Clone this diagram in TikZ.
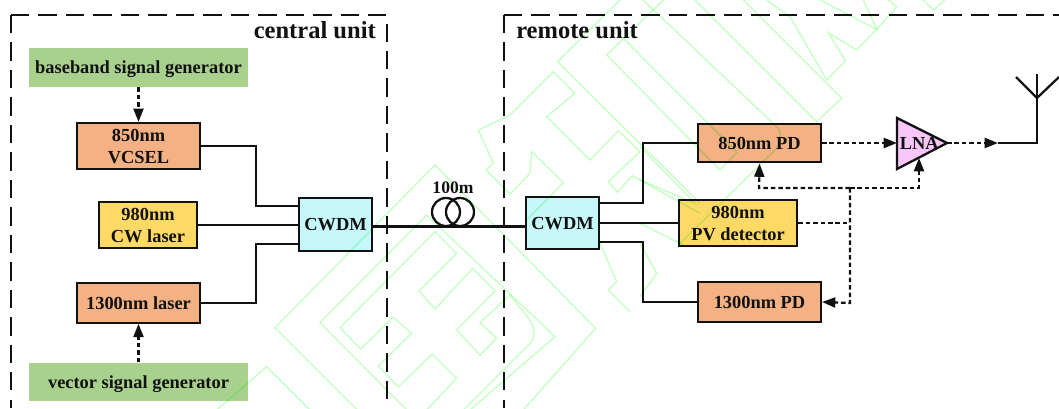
\documentclass[tikz,border=0pt]{standalone}
\usepackage{fontspec}
\setmainfont{Liberation Serif}
\usetikzlibrary{arrows.meta}
\definecolor{gbox}{HTML}{A9D18E}
\definecolor{obox}{HTML}{F4B183}
\definecolor{ybox}{HTML}{FFD966}
\definecolor{cbox}{HTML}{C5F7FB}
\definecolor{pbox}{HTML}{F9C6F9}
\definecolor{ink}{HTML}{111111}
\definecolor{wmark}{HTML}{C8FFC8}
\tikzset{
 x=0.75pt,y=-0.75pt,
 lab/.style={font=\bfseries\fontsize{13.8}{16.5}\selectfont,text=ink,align=center,inner sep=0pt,text depth=-1.2pt},
 bigl/.style={font=\bfseries\fontsize{18.4}{22}\selectfont,text=ink,inner sep=0pt},
 gen/.style={lab,fill=gbox},
 unitbox/.style={lab,draw=ink,line width=1.7pt},
 wire/.style={draw=ink,line width=1.7pt},
 frameline/.style={draw=ink,line width=1.7pt,dash pattern=on 13.8pt off 6.8pt},
 dotline/.style={draw=ink,line width=1.7pt,dash pattern=on 3.4pt off 2.2pt},
 tip/.style={-{Triangle[length=10pt,width=7.5pt]}},
 wm/.style={draw=wmark,line width=1.1pt,line join=miter},
}
\begin{document}
\begin{tikzpicture}
\useasboundingbox (0,0) rectangle (1059,408);
% frames
\coordinate (c1) at (11,408); \coordinate (c2) at (11,15); \coordinate (c3) at (387,15); \coordinate (c4) at (387,408);
\coordinate (r1) at (504,408); \coordinate (r2) at (504,15); \coordinate (r3) at (1059,15);
\draw[frameline] (c2) -- (c1);
\draw[frameline] (c2) -- (c3) -- (c4);
\draw[frameline] (r2) -- (r1);
\draw[frameline] (r2) -- (r3);
\node[bigl,anchor=east] (cu) at (376,30) {central unit};
\node[bigl,anchor=west] (ru) at (516,30) {remote unit};
% boxes
\node[gen,minimum width=164.25pt,minimum height=29pt] (bb) at (138.5,67.5) {baseband signal generator};
\node[gen,minimum width=164.25pt,minimum height=29pt] (vs) at (138.5,382) {vector signal generator};
\node[unitbox,fill=obox,minimum width=92pt,minimum height=34.5pt] (vcsel) at (138.5,146) {850nm\\VCSEL};
\node[unitbox,fill=ybox,minimum width=73.5pt,minimum height=34.5pt] (cw) at (148,225) {980nm\\CW laser};
\node[unitbox,fill=obox,minimum width=92pt,minimum height=29.5pt] (l13) at (138.5,303) {1300nm laser};
\node[unitbox,fill=cbox,minimum width=55pt,minimum height=39.5pt] (wl) at (335.5,224.5) {CWDM};
\node[unitbox,fill=cbox,minimum width=55pt,minimum height=39.5pt] (wr) at (562.5,223) {CWDM};
\node[unitbox,fill=obox,minimum width=92pt,minimum height=29pt] (pd85) at (759.5,143) {850nm PD};
\node[unitbox,fill=ybox,minimum width=88.5pt,minimum height=34.5pt] (pv) at (738,223) {980nm\\PV detector};
\node[unitbox,fill=obox,minimum width=92pt,minimum height=29.5pt] (pd13) at (759.5,302) {1300nm PD};
\coordinate (lnaA) at (897,118); \coordinate (lnaB) at (897,169); \coordinate (lnaC) at (947,143);
\draw[wire,fill=pbox,line join=miter] (lnaA) -- (lnaC) -- (lnaB) -- cycle;
\node[lab,anchor=west] (lnat) at (899.5,143) {LNA};
% dotted arrows
\draw[dotline,tip] (bb.south) -- (vcsel.north);
\draw[dotline,tip] (vs.north) -- (l13.south);
\coordinate (ant0) at (998,143);
\draw[dotline,tip] (pd85.east) -- (lnaA |- pd85.east);
\draw[dotline,tip] (lnaC) -- (ant0);
\coordinate (j1) at (850,223); \coordinate (j2) at (850,188);
\draw[dotline] (pv.east) -- (j1);
\draw[dotline,tip] (j2) -- (850,303) -- (pd13.east);
\draw[dotline,tip] (j2) -- (759,188) -- (pd85.south);
\draw[dotline,tip] (j2) -- (919,188) -- (919,158);
% solid
\draw[wire] (vcsel.east) -- (256,146) -- (256,206) -- (299,206);
\draw[wire] (cw.east) -- (299,225);
\draw[wire] (l13.east) -- (256,303) -- (256,244) -- (299,244);
\coordinate (fa) at (526,226.5);
\draw[wire] (372,226.5) -- (fa);
\draw[wire] (599,203) -- (643,203) -- (643,143) -- (pd85.west);
\draw[wire] (wr.east) -- (pv.west);
\draw[wire] (599,242) -- (643,242) -- (643,302) -- (pd13.west);
\draw[wire] (998,143) -- (1037,143) -- (1037,74);
\draw[wire] (1016,77) -- (1037,98) -- (1059,77);
% coil
\draw[wire] (446,212) circle[radius=14];
\draw[wire] (460,212) circle[radius=14];
\node[lab,font=\bfseries\fontsize{13.2}{16}\selectfont] (len) at (453,188) {100m};
% watermark
\begin{scope}[blend mode=multiply]
\begin{scope}[shift={(230,230)},x=0.25pt,y=-0.25pt]
\draw[wm] (135,293) -- (615,-195) -- (1097,295) -- (880,540);
\draw[wm] (135,293) -- (420,578);
\draw[wm] (590,-45) -- (270,278) -- (590,600);
\draw[wm] (590,-45) -- (975,320) -- (720,540);
\draw[wm] (330,293) -- (615,5) -- (680,70) -- (567,183) -- (615,237) -- (728,115) -- (795,183) -- (680,300) -- (750,375) -- (800,325) -- (750,278) -- (840,195) -- (900,270) .. controls (920,310) and (915,330) .. (890,350) -- (700,540);
\draw[wm] (330,293) -- (392,357) -- (490,262) -- (545,310) -- (445,408) -- (505,470) -- (607,372) -- (680,445) -- (590,540);
\draw[wm] (1110,40) -- (1160,155) -- (1135,180) -- (1200,245);
\draw[wm] (-40,540) -- (110,410) -- (240,540);
\end{scope}
\begin{scope}[shift={(380,0)},x=0.25pt,y=-0.25pt]
\draw[wm] (585,280) -- (520,215) -- (390,345) -- (295,390) -- (340,490) -- (318,510) -- (390,582) -- (450,520) -- (455,455) -- (550,548) -- (440,660);
\draw[wm] (585,280) -- (500,350) -- (630,480) -- (715,392) -- (780,455) -- (685,545) -- (712,577) -- (757,527) -- (960,640);
\draw[wm] (720,0) -- (533,185) -- (960,610);
\draw[wm] (850,0) -- (680,165) -- (1020,510) -- (1071,457) -- (730,115);
\end{scope}
\begin{scope}[shift={(640,50)},x=0.25pt,y=-0.25pt]
\draw[wm] (9,-150) -- (415,235) .. controls (425,250) and (425,275) .. (410,295) -- (115,585);
\draw[wm] (0,290) -- (165,460) -- (0,390);
\draw[wm] (0,520) -- (140,590);
\draw[wm] (0,580) -- (50,670) -- (0,740);
\end{scope}
\begin{scope}[shift={(700,0)},x=0.25pt,y=-0.25pt]
\draw[wm] (130,0) -- (425,295) -- (350,365) -- (-15,0);
\draw[wm] (200,0) -- (270,50) -- (380,240) -- (437,183) -- (385,98) -- (470,150) -- (530,88) -- (360,0);
\draw[wm] (490,0) -- (530,88) -- (590,20) -- (565,0);
\draw[wm] (670,0) -- (700,30) -- (735,0);
\end{scope}
\end{scope}
\end{tikzpicture}
\end{document}
